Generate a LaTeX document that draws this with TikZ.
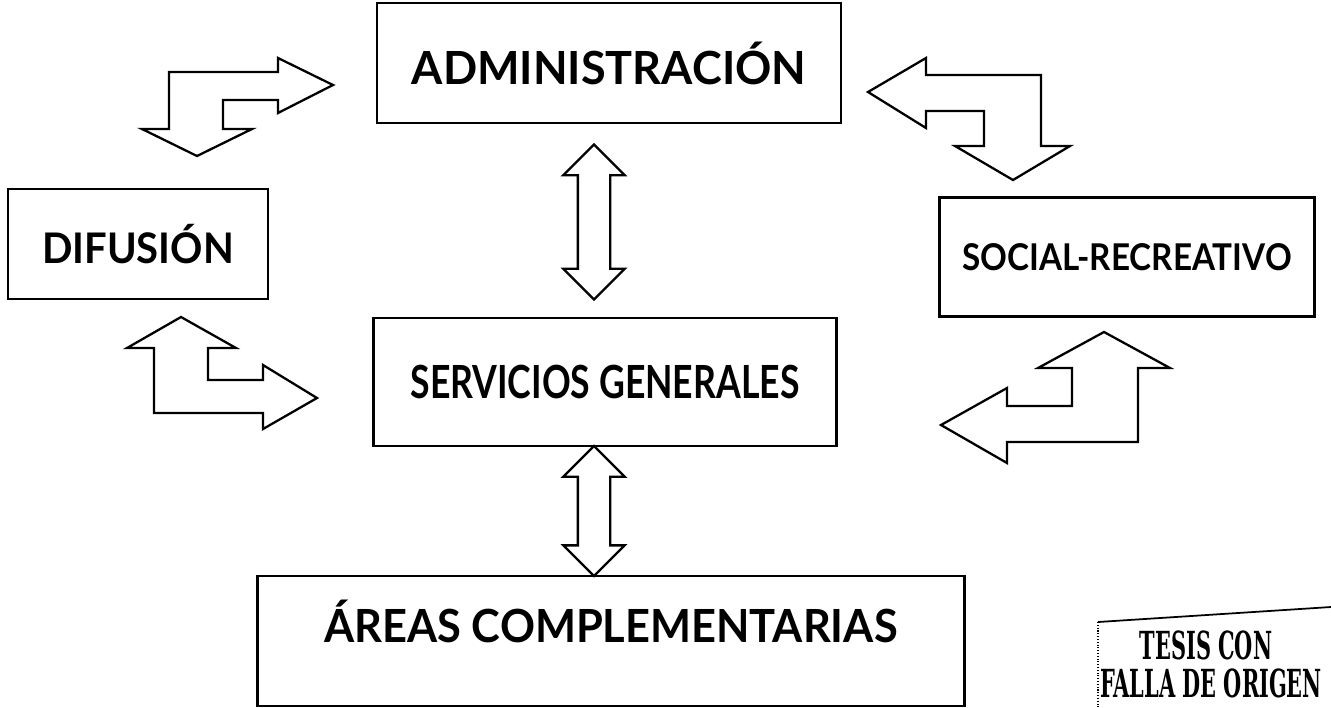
\documentclass[tikz,border=0pt]{standalone}
\usepackage{graphicx}
\usepackage{fontspec}
\setmainfont{Lato}
\newfontfamily\stampfont{DejaVu Serif Condensed}
\usetikzlibrary{shapes.arrows}

\begin{document}
\begin{tikzpicture}[x=0.02cm, y=-0.02cm,
    area/.style={draw, line width=1.3pt, inner sep=0pt, font=\bfseries\fontsize{26}{30}\selectfont},
    dblarrow/.style={double arrow, draw, fill=white, line width=1.3pt, rotate=90,
      inner xsep=0pt, inner ysep=0.3cm, double arrow head extend=0.29cm},
    bent/.style={draw, fill=white, line width=1.3pt, line join=miter},
    stamp/.style={font=\stampfont\bfseries\fontsize{22}{24}\selectfont, inner sep=0pt}]
    \useasboundingbox (0,0) rectangle (1331,707);
    % areas
    \node[area, minimum width=9.28cm, minimum height=2.4cm] (adm) at (609,63) {\scalebox{0.985}[1]{ADMINISTRACIÓN}};
    \node[area, minimum width=5.2cm, minimum height=2.2cm, font=\bfseries\fontsize{24}{28}\selectfont] (dif) at (138,244) {\scalebox{0.95}[1]{DIFUSIÓN}};
    \node[area, minimum width=7.5cm, minimum height=2.38cm, font=\bfseries\fontsize{21}{26}\selectfont] (soc) at (1127,257) {\scalebox{0.9}[1]{SOCIAL-RECREATIVO}};
    \node[area, minimum width=9.26cm, minimum height=2.56cm] (ser) at (605,382) {\scalebox{0.78}[1]{SERVICIOS GENERALES}};
    \node[area, minimum width=14.14cm, minimum height=2.6cm, text depth=0.8cm] (are) at (611,641) {\scalebox{0.95}[1]{ÁREAS COMPLEMENTARIAS}};
    % double arrows
    \node[dblarrow, minimum height=3.1cm] (adm-ser) at (594,222) {};
    \node[dblarrow, minimum height=2.6cm] (ser-are) at (594,511) {};
    % bent arrows
    \draw[bent] (142,129) -- (169,129) -- (169,72) -- (278,72) -- (278,58) -- (333,85)
      -- (278,113) -- (278,100) -- (223,100) -- (223,129) -- (252,129) -- (197,156) -- cycle;
    \draw[bent] (868,92) -- (926,58) -- (926,75) -- (1041,75) -- (1041,146) -- (1070,146)
      -- (1013,180) -- (955,146) -- (984,146) -- (984,111) -- (926,111) -- (926,128) -- cycle;
    \draw[bent] (181,317) -- (236,348) -- (208,348) -- (208,380) -- (263,380) -- (263,365)
      -- (317,398) -- (263,429) -- (263,413) -- (154,413) -- (154,348) -- (127,348) -- cycle;
    \draw[bent] (1104,332) -- (1170,368) -- (1138,368) -- (1138,442) -- (1007,442) -- (1007,463)
      -- (941,425) -- (1007,388) -- (1007,406) -- (1072,406) -- (1072,368) -- (1038,368) -- cycle;
    % stamp
    \coordinate (st1) at (1098,622);
    \coordinate (st2) at (1331,607);
    \coordinate (st3) at (1098,707);
    \draw[line width=1pt] (st1) -- (st2);
    \draw[densely dotted, line width=0.6pt] (st1) -- (st3);
    \node[stamp] (tesis) at (1206,645) {\scalebox{0.6}[1]{TESIS CON}};
    \node[stamp] (falla) at (1211,683) {\scalebox{0.6}[1]{FALLA DE ORIGEN}};
\end{tikzpicture}
\end{document}
